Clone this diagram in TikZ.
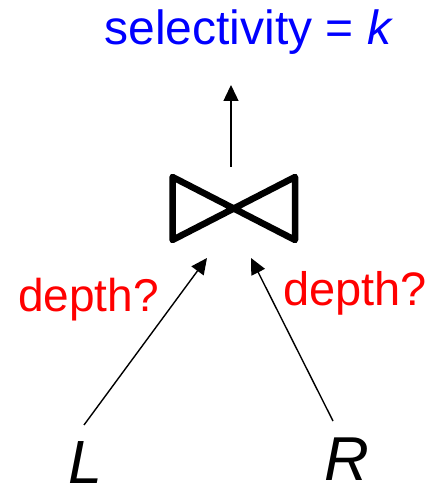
\documentclass[tikz,border=0pt]{standalone}
\usepackage{fontspec}
\setmainfont{Liberation Sans}
\usetikzlibrary{arrows.meta}
\definecolor{selblue}{RGB}{0,0,255}
\definecolor{depred}{RGB}{255,0,0}
\begin{document}
\begin{tikzpicture}[x=1pt,y=1pt,
  lbl/.style={inner sep=0pt,anchor=base},
  conn/.style={line width=1.4pt,-{Triangle[length=16pt,width=15pt]}},
  bow/.style={line width=6.5pt,line join=round,line cap=round}]
\useasboundingbox (0,0) rectangle (429,488);
% labels
\node[lbl,text=selblue,font=\fontsize{48}{50}\selectfont] (sel) at (249,443) {selectivity = \textit{k}};
\node[lbl,text=depred,font=\fontsize{46}{48}\selectfont] (dl) at (88.5,176) {depth?};
\node[lbl,text=depred,font=\fontsize{47}{49}\selectfont] (dr) at (355,182) {depth?};
\node[lbl,font=\fontsize{61}{63}\selectfont\itshape] (L) at (85,5) {L};
\node[lbl,font=\fontsize{62}{64}\selectfont\itshape] (R) at (347,7) {R};
% join symbol
\coordinate (j) at (234,279.5);
\draw[bow] (172.5,311) -- (295,248) -- (295,311) -- (172.5,248) -- cycle;
% connector endpoints
\coordinate (jtop) at (231,321);
\coordinate (out) at (231,403);
\coordinate (jl) at (207,230);
\coordinate (jr) at (251,230);
\coordinate (Ltop) at (84,63);
\coordinate (Rtop) at (333,67);
\draw[conn] (jtop) -- (out);
\draw[conn] (Ltop) -- (jl);
\draw[conn] (Rtop) -- (jr);
\end{tikzpicture}
\end{document}
